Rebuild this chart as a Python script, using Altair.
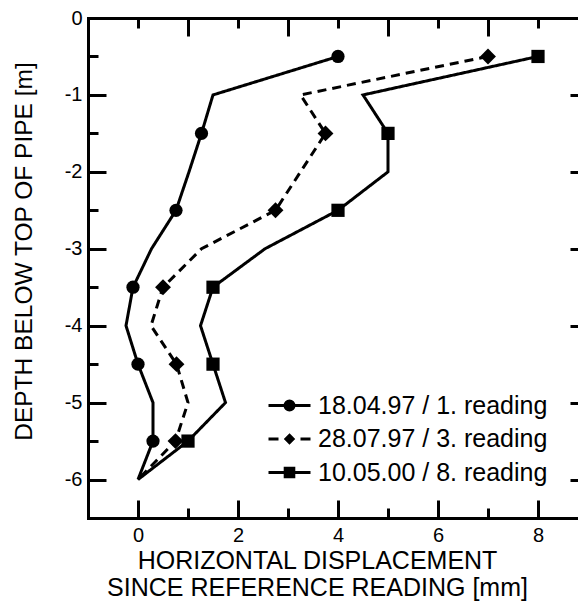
import altair as alt
import pandas as pd

# ---------------- data ----------------
depths = [-0.5, -1.0, -1.5, -2.0, -2.5, -3.0, -3.5, -4.0, -4.5, -5.0, -5.5, -6.0]
reading1 = [4.0, 1.5, 1.27, 1.02, 0.76, 0.27, -0.1, -0.24, 0.0, 0.3, 0.3, 0.0]
reading3 = [7.0, 3.25, 3.75, 3.25, 2.75, 1.27, 0.5, 0.26, 0.77, 1.0, 0.75, 0.0]
reading8 = [8.0, 4.5, 5.0, 5.0, 4.0, 2.54, 1.5, 1.25, 1.5, 1.75, 1.0, 0.0]
series_names = ["18.04.97 / 1. reading", "28.07.97 / 3. reading", "10.05.00 / 8. reading"]

x_major = [0, 2, 4, 6, 8]
x_minor = [1, 3, 5, 7]
y_major = [0, -1, -2, -3, -4, -5, -6]
y_minor = [-0.5, -1.5, -2.5, -3.5, -4.5, -5.5]

x_title = ["HORIZONTAL DISPLACEMENT", "SINCE REFERENCE READING [mm]"]
y_title = "DEPTH BELOW TOP OF PIPE [m]"

# ---------------- styles ----------------
FONT = "Liberation Sans"
marker_shapes = ["circle", "M0,-1.2L1.2,0L0,1.2L-1.2,0Z", "square"]
dash_styles = [[1, 0], [9, 6], [1, 0]]
legend_paths = [
    "M-4.5,0A4.5,4.5,0,1,1,4.5,0A4.5,4.5,0,1,1,-4.5,0ZM-21,0H21",
    "M0,-3.6L3.6,0L0,3.6L-3.6,0ZM-21,0H-11M11,0H21",
    "M-4.3,-4.3H4.3V4.3H-4.3ZM-21,0H21",
]

rows = []
for name, vals in zip(series_names, [reading1, reading3, reading8]):
    for d, v in zip(depths, vals):
        rows.append({"series": name, "marker": name, "depth": d, "disp": v})
df = pd.DataFrame(rows)

xs = alt.Scale(domain=[-1, 9], range=[0, 500], nice=False, zero=False)
ys = alt.Scale(domain=[-6.5, 0], nice=False, zero=False)

def xaxis(**kw):
    base = dict(grid=False, tickWidth=3, tickColor="black", domainColor="black",
                domainWidth=3, domainCap="square", labelFlush=False, title=None)
    base.update(kw)
    return alt.Axis(**base)

base = alt.Chart(df)

lines = base.mark_line(color="black", strokeWidth=3).encode(
    x=alt.X("disp:Q", scale=xs, axis=xaxis(
        orient="bottom", values=x_major, tickSize={"expr": "-18"},
        labelFontSize=20, labelPadding=25, labelExpr="'' + datum.value",
        title=x_title, titleFontSize=25, titleX=229, titleY=50,
        titleBaseline="alphabetic", titleAlign="center", titleAngle=0,
        titleLineHeight=27, titleFontWeight="normal")),
    y=alt.Y("depth:Q", scale=ys, axis=xaxis(
        orient="left", values=y_major, tickSize={"expr": "-18"},
        labelFontSize=20, labelPadding=24, labelExpr="'' + datum.value",
        title=y_title, titleFontSize=24.5, titleX=-57, titleY=233,
        titleBaseline="alphabetic", titleAlign="center", titleAngle=270,
        titleFontWeight="normal")),
    strokeDash=alt.StrokeDash("series:N",
                              scale=alt.Scale(domain=series_names, range=dash_styles),
                              legend=None),
    order=alt.Order("depth:Q", sort="descending"),
)

points = base.transform_filter("datum.depth % 1 !== 0").mark_point(
    filled=True, color="black", size=175, opacity=1
).encode(
    x=alt.X("disp:Q", scale=xs, axis=xaxis(
        orient="bottom", values=x_minor, tickSize={"expr": "-10"},
        labels=False, domain=False)),
    y=alt.Y("depth:Q", scale=ys, axis=xaxis(
        orient="left", values=y_minor, tickSize={"expr": "-10"},
        labels=False, domain=False)),
    shape=alt.Shape("marker:N",
                    scale=alt.Scale(domain=series_names, range=marker_shapes),
                    legend=None),
)

legend_layer = base.transform_filter("false").mark_point(
    filled=True, color="black", stroke="black", strokeWidth=3, size=4, opacity=1
).encode(
    x=alt.X("disp:Q", scale=xs, axis=xaxis(
        orient="top", values=x_minor, tickSize={"expr": "-18"}, labels=False)),
    y=alt.Y("depth:Q", scale=ys, axis=xaxis(
        orient="right", values=y_major, tickSize={"expr": "-18"},
        labels=False, domain=False, offset=10)),
    shape=alt.Shape("series:N",
                    scale=alt.Scale(domain=series_names, range=legend_paths),
                    legend=alt.Legend(
                        title=None, orient="none", legendX=189, legendY=375,
                        labelFontSize=25, labelFont=FONT, labelColor="black",
                        labelOffset=16, labelLimit=400, rowPadding=7.5, padding=0,
                        symbolSize=4, symbolStrokeWidth=3, symbolOpacity=1)),
)

extra_ticks = base.transform_filter("false").mark_point(opacity=0).encode(
    x=alt.X("disp:Q", scale=xs, axis=xaxis(
        orient="top", values=x_major, tickSize={"expr": "-10"},
        labels=False, domain=False)),
    y=alt.Y("depth:Q", scale=ys, axis=xaxis(
        orient="right", values=y_minor, tickSize={"expr": "-10"},
        labels=False, domain=False, offset=10)),
)

chart = alt.layer(lines, points, legend_layer, extra_ticks).resolve_axis(
    x="independent", y="independent"
).resolve_scale(shape="independent").resolve_legend(shape="independent").properties(
    width=490, height=500,
    autosize=alt.AutoSizeParams(type="none"),
    padding={"left": 88, "top": 18, "right": 0, "bottom": 91},
    background="white",
).configure_view(stroke=None).configure_axis(
    labelFont=FONT, titleFont=FONT, labelColor="black", titleColor="black"
)

chart.save("out.html", embed_options={"renderer": "svg", "actions": False})
